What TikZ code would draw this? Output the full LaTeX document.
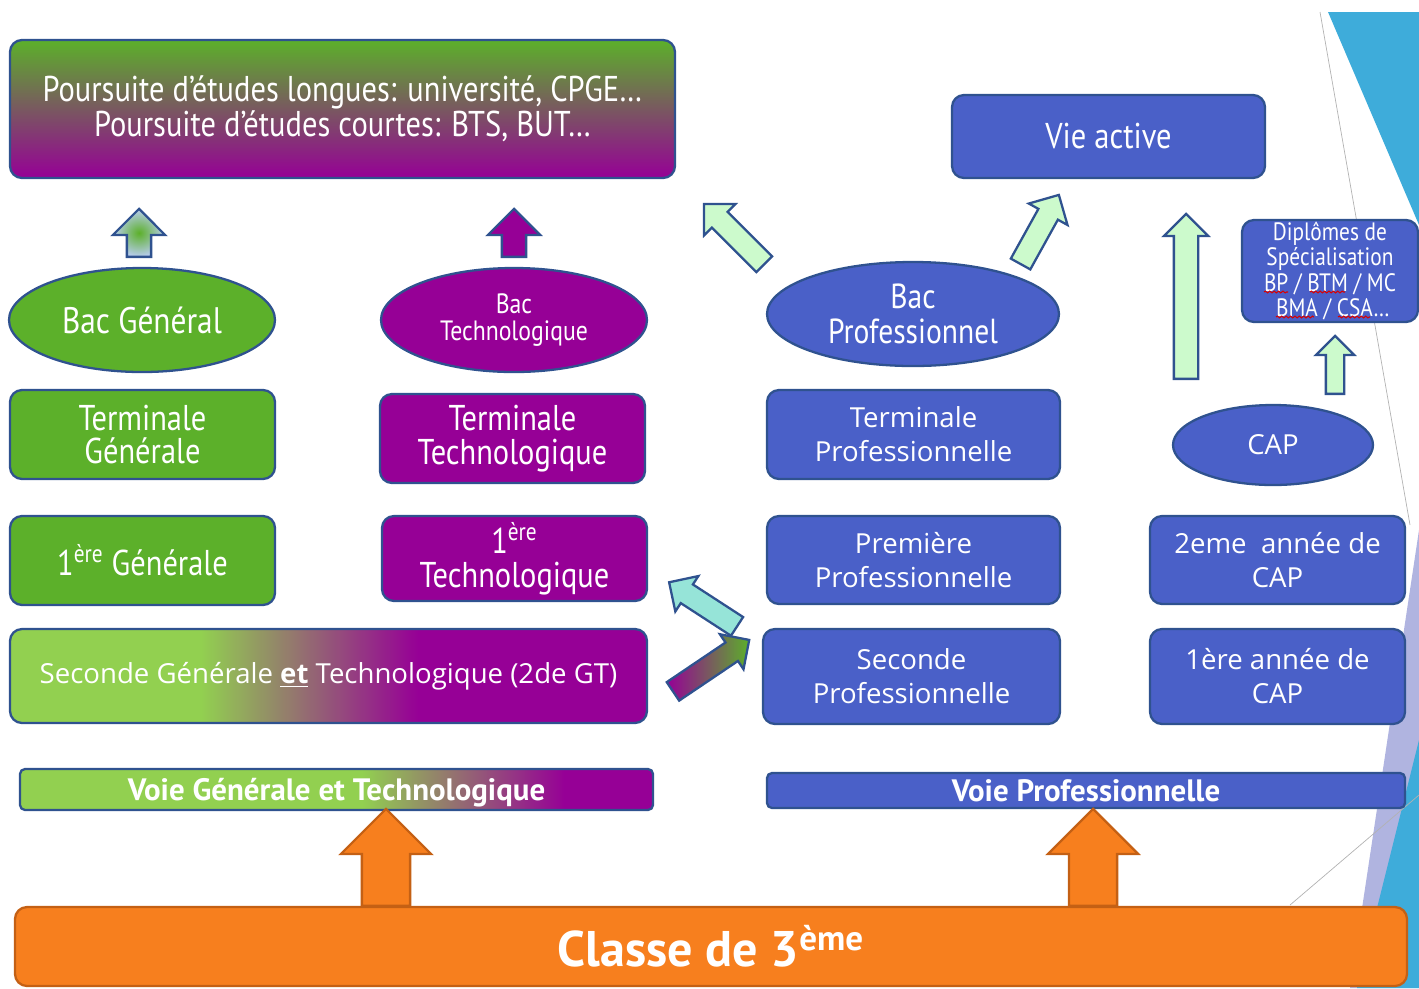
\documentclass[tikz,border=0pt]{standalone}
\usepackage{fontspec}
\setmainfont{Open Sans}
\newfontfamily\narrow[FakeStretch=0.85]{PT Sans}
\newfontfamily\gras{PT Sans}
\usetikzlibrary{shapes.geometric,shapes.arrows,decorations.pathmorphing}

\definecolor{gvert}{RGB}{92,176,42}
\definecolor{gclair}{RGB}{146,208,80}
\definecolor{gviolet}{RGB}{150,0,150}
\definecolor{pbleu}{RGB}{74,96,200}
\definecolor{bord}{RGB}{47,82,143}
\definecolor{oclasse}{RGB}{247,127,30}
\definecolor{obord}{RGB}{196,96,20}
\definecolor{vpale}{RGB}{204,250,204}
\definecolor{cyanpale}{RGB}{150,228,216}
\definecolor{bleuclair}{RGB}{185,205,240}
\definecolor{decocyan}{RGB}{62,172,218}
\definecolor{decolav}{RGB}{176,180,224}

\pgfdeclarehorizontalshading{gtshade}{100bp}{color(0bp)=(gclair); color(40bp)=(gclair); color(57bp)=(gviolet); color(100bp)=(gviolet)}
\pgfdeclarehorizontalshading{voieshade}{100bp}{color(0bp)=(gclair); color(52bp)=(gclair); color(68bp)=(gviolet); color(100bp)=(gviolet)}

\tikzstyle{boite} = [draw=bord, line width=1.3pt, rounded corners=0.24cm,
    text=white, align=center, inner sep=0pt]
\tikzstyle{gen} = [boite, fill=gvert]
\tikzstyle{techno} = [boite, fill=gviolet]
\tikzstyle{pro} = [boite, fill=pbleu]
\tikzstyle{bac} = [draw=bord, line width=1.3pt, ellipse, text=white,
    align=center, inner sep=0pt]
\tikzstyle{etroit} = [font=\narrow\fontsize{20.4pt}{19.3pt}\selectfont]
\tikzstyle{large} = [font=\fontsize{15.7pt}{19.3pt}\selectfont]
\tikzstyle{faute} = [draw=red!85!black, line width=0.6pt, decorate,
    decoration={snake, amplitude=0.5pt, segment length=2.5pt}]

\tikzset{
  taille/.style 2 args={minimum width=#1*0.02cm, minimum height=#2*0.02cm},
  fleche/.style n args={3}{draw=bord, line width=1.3pt, single arrow, anchor=tail,
    inner xsep=0pt, inner ysep=#3*0.01cm, single arrow head extend=#2*0.01cm-#3*0.01cm,
    minimum height=#1*0.02cm}
}

\begin{document}
\begin{tikzpicture}[x=0.02cm, y=-0.02cm]
    \useasboundingbox (0,0) rectangle (1419,988);

    % decor du bord droit
    \fill[decocyan] (1328,12) -- (1419,12) -- (1419,225) -- cycle;
    \fill[decolav] (1419,530) -- (1350,988) -- (1419,988) -- cycle;
    \fill[decocyan] (1419,740) -- (1357,988) -- (1419,988) -- cycle;
    \draw[gray!60, line width=0.4pt] (1320,12) -- (1410,525);
    \draw[gray!60, line width=0.4pt] (1419,795) -- (1290,905);

    % voie generale et technologique
    \node[boite, taille={665}{138}, top color=gvert, bottom color=gviolet,
      font=\narrow\fontsize{20.4pt}{19.8pt}\selectfont] (pours) at (342.5,109)
      {Poursuite d’études longues: université, CPGE…\\Poursuite d’études courtes: BTS, BUT…};
    \node[bac, fill=gvert, taille={266}{104},
      font=\narrow\fontsize{21pt}{21pt}\selectfont] (bacg) at (142,320) {Bac Général};
    \node[bac, fill=gviolet, taille={266}{104},
      font=\narrow\fontsize{15.9pt}{15.3pt}\selectfont] (bact) at (514,320) {Bac\\Technologique};
    \node[gen, etroit, taille={265}{89}] (termg) at (142.5,434.5) {Terminale\\Générale};
    \node[techno, etroit, taille={265}{89}] (termt) at (512.5,438.5) {Terminale\\Technologique};
    \node[gen, etroit, taille={265}{89}] (premg) at (142.5,560.5) {1\textsuperscript{ère} Générale};
    \node[techno, etroit, taille={265}{85}] (premt) at (514.5,558.5) {1\textsuperscript{ère}\\Technologique};
    \node[boite, large, taille={637}{94}, shading=gtshade] (secgt) at (328.5,676)
      {Seconde Générale \textbf{\underline{et}} Technologique (2de GT)};

    % voie professionnelle
    \node[pro, taille={313}{83}, font=\narrow\fontsize{20.4pt}{20pt}\selectfont] (vie) at (1108.5,136.5) {Vie active};
    \node[pro, taille={176}{102}, font=\narrow\fontsize{14.3pt}{14.4pt}\selectfont] (dipl) at (1330,271)
      {Diplômes de\\Spécialisation\\BP / BTM / MC\\\ BMA / CSA…};
    \node[bac, fill=pbleu, taille={292}{104},
      font=\narrow\fontsize{19.8pt}{19.8pt}\selectfont] (bacp) at (913,314) {Bac\\Professionnel};
    \node[bac, fill=pbleu, large, taille={200}{80}] (cap) at (1273,445) {CAP};
    \node[pro, large, taille={293}{89}] (termp) at (913.5,434.5) {Terminale\\Professionnelle};
    \node[pro, large, taille={293}{88}] (premp) at (913.5,560) {Première\\Professionnelle};
    \node[pro, large, taille={297}{95}] (secp) at (911.5,676.5) {Seconde\\Professionnelle};
    \node[pro, large, taille={255}{88}] (cap2) at (1277.5,560) {2eme\ \ année de\\CAP};
    \node[pro, large, taille={255}{95}] (cap1) at (1277.5,676.5) {1ère année de\\CAP};

    % soulignes du correcteur
    \draw[faute] (1264,292) -- (1288,292);
    \draw[faute] (1310,292) -- (1345,292);
    \draw[faute] (1276,317) -- (1314,317);
    \draw[faute] (1338,317) -- (1370,317);

    % bandeaux du bas
    \node[boite, taille={633}{41}, shading=voieshade, rounded corners=0.1cm, text depth=0pt,
      font=\gras\bfseries\fontsize{17.6pt}{18pt}\selectfont] (voiegt) at (336.5,789.5)
      {Voie Générale et Technologique};
    \node[pro, taille={638}{35}, rounded corners=0.1cm, text depth=0pt,
      font=\gras\bfseries\fontsize{17.6pt}{18pt}\selectfont] (voiep) at (1086,790.5)
      {Voie Professionnelle};
    \node[boite, draw=obord, fill=oclasse, taille={1392}{79},
      font=\gras\bfseries\fontsize{28.5pt}{29pt}\selectfont] (classe) at (711,946.5)
      {Classe de 3\textsuperscript{ème}};

    % fleches (placees par leur queue)
    \node[fleche={48}{50}{22}, rotate=90, inner color=gvert, outer color=bleuclair] (fbacg) at (139,258) {};
    \node[fleche={48}{50}{22}, rotate=90, fill=gviolet] (fbact) at (514,258) {};
    \node[fleche={85}{42}{20}, rotate=135, fill=vpale] (fbacp) at (765,265) {};
    \node[fleche={79}{42}{20}, rotate=61, fill=vpale] (fvie) at (1020,265) {};
    \node[fleche={165}{42}{22}, rotate=90, fill=vpale] (fcap) at (1186,380) {};
    \node[fleche={58}{36}{16}, rotate=90, fill=vpale] (fdipl) at (1335,395) {};
    \node[fleche={81}{40}{20}, rotate=147, fill=cyanpale] (fretour) at (738,627) {};
    \node[fleche={92}{40}{20}, rotate=34, left color=gviolet, right color=gvert] (fpasse) at (672,692) {};
    \node[fleche={97}{88}{46}, rotate=90, draw=obord, fill=oclasse] (fgt) at (386,907) {};
    \node[fleche={97}{88}{46}, rotate=90, draw=obord, fill=oclasse] (fpro) at (1093,907) {};
\end{tikzpicture}
\end{document}
